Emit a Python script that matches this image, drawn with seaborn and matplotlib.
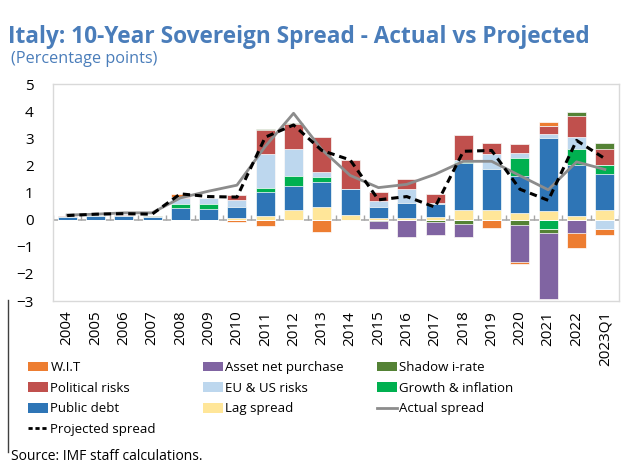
import numpy as np
import matplotlib.pyplot as plt
import seaborn as sns
from matplotlib.lines import Line2D
from matplotlib.patches import Patch

# Data (percentage points)
years = ['2004', '2005', '2006', '2007', '2008', '2009', '2010', '2011', '2012', '2013',
         '2014', '2015', '2016', '2017', '2018', '2019', '2020', '2021', '2022', '2023Q1']

lag_spread = [0, 0, 0, 0, 0, 0, 0.05, 0.13, 0.34, 0.45,
              0.17, 0.06, 0.05, 0.08, 0.34, 0.34, 0.24, 0.30, 0.12, 0.36]
public_debt = [0.08, 0.12, 0.12, 0.10, 0.43, 0.40, 0.42, 0.88, 0.90, 0.92,
               0.95, 0.39, 0.56, 0.49, 1.75, 1.51, 1.36, 2.72, 1.88, 1.32]
growth_inflation = [0, 0, 0, 0, 0.15, 0.17, 0, 0.17, 0.38, 0.20,
                    0, 0, 0, 0, 0.05, 0, 0.67, -0.36, 0.62, 0.32]
eu_us_risks = [0, 0, 0, 0, 0.20, 0.22, 0.27, 1.25, 0.97, 0.19,
               0, 0.24, 0.52, 0.05, 0.05, 0.56, 0.19, 0.12, 0.42, -0.36]
political_risks = [0.07, 0.03, 0.06, 0, 0.05, 0, 0.16, 0.88, 0.94, 1.28,
                   1.09, 0.34, 0.37, 0.33, 0.94, 0.43, 0.34, 0.30, 0.79, 0.62]
shadow_rate = [0, 0, 0, 0.05, 0, 0, 0, 0.04, 0.03, 0,
               0, -0.04, -0.03, -0.08, -0.15, 0, -0.18, -0.13, 0.15, 0.20]
asset_purchase = [0, 0, 0, 0, 0, 0, 0, 0, 0, 0,
                  0, -0.30, -0.60, -0.47, -0.50, 0, -1.40, -2.43, -0.49, 0]
wit = [0, 0, 0, 0, 0.12, 0, -0.10, -0.24, 0, -0.46,
       0, 0, 0, 0, 0, -0.30, -0.07, 0.15, -0.57, -0.20]

actual_spread = [0.17, 0.20, 0.25, 0.25, 0.80, 1.05, 1.27, 2.70, 3.92, 2.58,
                 1.63, 1.18, 1.30, 1.67, 2.15, 2.15, 1.62, 1.10, 2.13, 1.85]
projected_spread = [0.15, 0.20, 0.22, 0.20, 0.95, 0.85, 0.83, 3.04, 3.49, 2.55,
                    2.20, 0.73, 0.85, 0.46, 2.52, 2.55, 1.12, 0.71, 2.92, 2.25]

# stacking order (bottom to top) and colours
components = [
    ('Lag spread', lag_spread, '#FFE699'),
    ('Public debt', public_debt, '#2E75B6'),
    ('Growth & inflation', growth_inflation, '#00B050'),
    ('EU & US risks', eu_us_risks, '#BDD7EE'),
    ('Political risks', political_risks, '#C0504D'),
    ('Shadow i-rate', shadow_rate, '#548235'),
    ('Asset net purchase', asset_purchase, '#8064A2'),
    ('W.I.T', wit, '#ED7D31'),
]
colors = {name: c for name, _, c in components}

plt.rcParams['font.family'] = ['Open Sans', 'DejaVu Sans']

fig = plt.figure(figsize=(6.28, 4.63), dpi=100)
ax = fig.add_axes([53 / 628, 1 - 301 / 463, 566 / 628, 217 / 463])

vals = np.array([v for _, v, _ in components], dtype=float)
cum_pos = np.cumsum(np.clip(vals, 0, None), axis=0)
cum_neg = np.cumsum(np.clip(vals, None, 0), axis=0)

# draw cumulative totals from the outermost layer inward so each layer shows its own slice
for k in range(len(components) - 1, -1, -1):
    for cum in (cum_pos, cum_neg):
        sns.barplot(x=years, y=cum[k], color=components[k][2], width=0.67,
                    saturation=1, errorbar=None, edgecolor='white', linewidth=0.5,
                    ax=ax, zorder=2)

ax.axhline(0, color='#A6A6A6', lw=1.1, zorder=1.5)
ax.vlines(np.arange(len(years) + 1) - 0.5, 0, 0.17, color='#A6A6A6', lw=1.0, zorder=1.5)

xpos = np.arange(len(years))
sns.lineplot(x=xpos, y=actual_spread, color='#8C8C8C', linewidth=2, ax=ax, zorder=5)
sns.lineplot(x=xpos, y=projected_spread, color='black', linewidth=2.2,
             linestyle=(0, (2.4, 1.6)), ax=ax, zorder=6)

ax.set_xlim(-0.5, len(years) - 0.5)
ax.set_ylim(-3, 5)
ax.set_yticks(range(-3, 6))
ax.set_xticks(xpos)
ax.set_xticklabels(years, rotation=90)
ax.set_xlabel('')
ax.set_ylabel('')
ax.tick_params(axis='y', length=0, pad=14, labelsize=11)
ax.tick_params(axis='x', length=0, pad=7, labelsize=11)
for s in ax.spines.values():
    s.set_color('#D9D9D9')
    s.set_linewidth(1)

fig.text(8 / 628, 1 - 43 / 463, 'Italy: 10-Year Sovereign Spread - Actual vs Projected',
         fontsize=16.3, fontweight='bold', color='#4A7DBA', va='baseline')
fig.text(11 / 628, 1 - 63 / 463, '(Percentage points)', fontsize=11.7,
         color='#4A7DBA', va='baseline')

def box(name):
    return Patch(facecolor=colors[name], edgecolor='none', label=name)

legend_cols = [
    (28, [box('W.I.T'), box('Political risks'), box('Public debt'),
          Line2D([], [], color='black', lw=2, linestyle=(0, (1.5, 1)), label='Projected spread')]),
    (203, [box('Asset net purchase'), box('EU & US risks'), box('Lag spread')]),
    (377, [box('Shadow i-rate'), box('Growth & inflation'),
           Line2D([], [], color='#8C8C8C', lw=2, label='Actual spread')]),
]
for x0, hs in legend_cols:
    fig.legend(handles=hs, ncol=1, loc='upper left', bbox_to_anchor=(x0 / 628, 1 - 361 / 463),
               frameon=False, fontsize=9.5, handlelength=1.55, handleheight=0.75,
               handletextpad=0.15, labelspacing=0.58, borderpad=0, borderaxespad=0)

fig.text(11 / 628, 1 - 449 / 463, 'Source: IMF staff calculations.', fontsize=10,
         va='top', color='black')
fig.add_artist(Line2D([8 / 628, 8 / 628], [1 - 300 / 463, 1 - 452 / 463],
                      color='#404040', lw=1, transform=fig.transFigure))

fig.savefig('out.png', dpi=100)
